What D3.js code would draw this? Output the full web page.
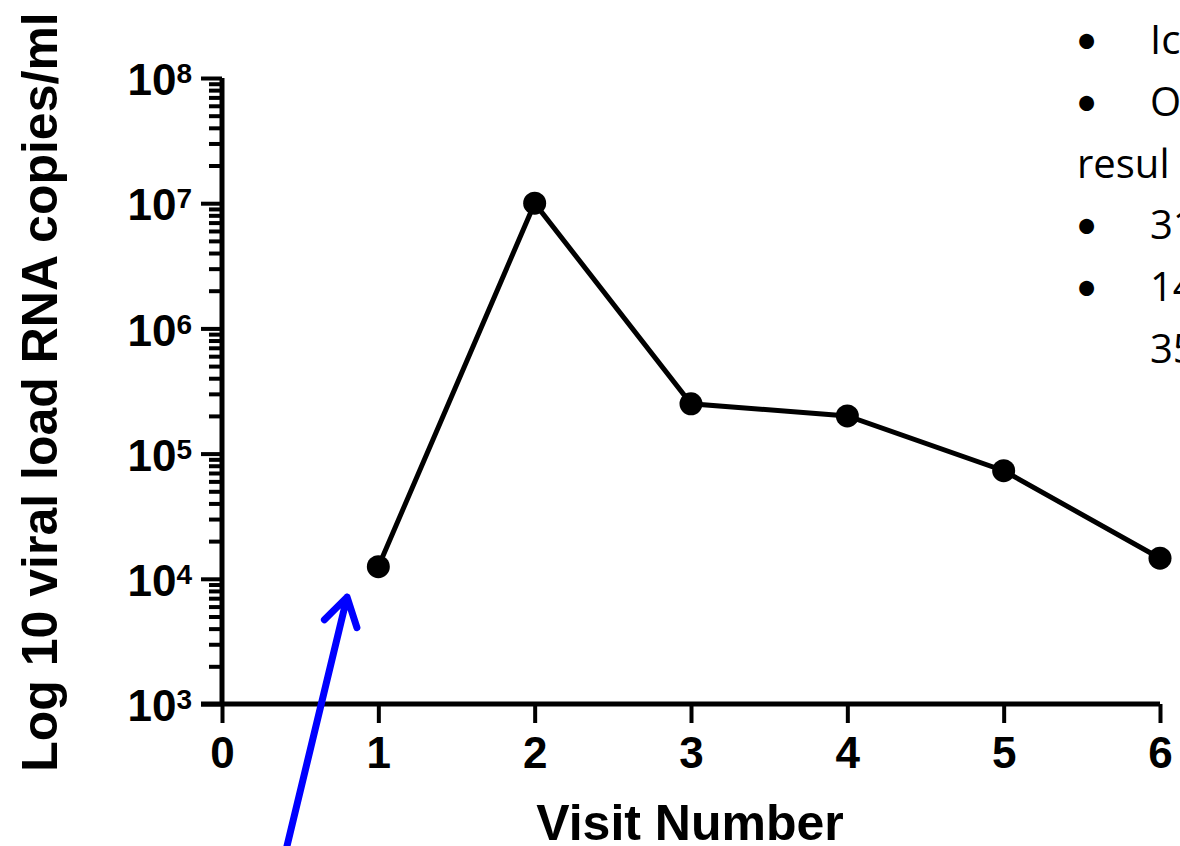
<!DOCTYPE html>
<html>
<head>
<meta charset="utf-8">
<script src="https://cdn.jsdelivr.net/npm/d3@7"></script>
<style>
	body { margin: 0; background: #fff; }
	svg { display: block; }
	.axis path { stroke: #000; stroke-width: 5; }
	.axis line { stroke: #000; stroke-width: 4; }
	.axis text { font-family: 'Liberation Sans', Arial, sans-serif; font-weight: bold; fill: #000; }
	.notes text { font-family: 'Open Sans', Lato, sans-serif; fill: #000; font-size: 40px; }
	.notes text.bullet { font-family: Lato, sans-serif; }
</style>
</head>
<body>
<svg id="chart" width="1180" height="846"></svg>
<script>
const VISITS = [1, 2, 3, 4, 5, 6];
const VIRAL_LOAD = [12500, 10000000, 250000, 200000, 73000, 14600];
const X_TICKS = [0, 1, 2, 3, 4, 5, 6];
const Y_DECADES = [3, 4, 5, 6, 7, 8];
const X_TITLE = 'Visit Number';
const Y_TITLE = 'Log 10 viral load RNA copies/ml';
// clipped bullet text at the top right of the slide
const NOTE_LINES = [
	{ bullet: true, text: 'Ic' },
	{ bullet: true, text: 'O' },
	{ bullet: false, text: 'resul' },
	{ bullet: true, text: '31' },
	{ bullet: true, text: '14' },
	{ bullet: false, text: '35', indent: true }
];
// arrow in data units: tail, tip
const ARROW = [[0.416, 73.6], [0.8, 7140]];

const $svg = d3.select('#chart');

const x = d3.scaleLinear().domain([0, 6]).range([222, 1160]);
const y = d3.scaleLog().domain([1e3, 1e8]).range([704, 78]);

const minors = [];
Y_DECADES.slice(0, -1).forEach(e => {
	for (let m = 2; m <= 9; m += 1) minors.push(m * Math.pow(10, e));
});

// minor y ticks
$svg.append('g')
	.attr('class', 'axis')
	.attr('transform', `translate(${x(0)},0)`)
	.call(d3.axisLeft(y).tickValues(minors).tickSize(13).tickFormat(''))
	.call(g => g.select('.domain').remove());

// major y ticks
const $yAxis = $svg.append('g')
	.attr('class', 'axis')
	.attr('transform', `translate(${x(0)},0)`)
	.call(d3.axisLeft(y)
		.tickValues(Y_DECADES.map(e => Math.pow(10, e)))
		.tickSize(21)
		.tickSizeOuter(0)
		.tickPadding(9));

$yAxis.select('.domain').attr('d', `M0,${y(1e8)}V${y(1e3)}`);

$yAxis.selectAll('.tick text').each(function(d) {
	const $t = d3.select(this);
	$t.text(null).attr('dy', '0.38em').attr('font-size', 44);
	$t.append('tspan').text('10');
	$t.append('tspan')
		.attr('dy', -12)
		.attr('font-size', 28)
		.text(Math.round(Math.log10(d)));
});

// x axis
$svg.append('g')
	.attr('class', 'axis')
	.attr('transform', `translate(0,${y(1e3)})`)
	.call(d3.axisBottom(x)
		.tickValues(X_TICKS)
		.tickFormat(d3.format('d'))
		.tickSize(19)
		.tickSizeOuter(0)
		.tickPadding(14))
	.call(g => g.selectAll('.tick text').attr('font-size', 44))
	.call(g => g.select('.domain').attr('d', `M${x(0) - 21},0H${x(6)}`));

// series
const line = d3.line().x(d => x(d[0])).y(d => y(d[1]));
const pts = VISITS.map((v, i) => [v, VIRAL_LOAD[i]]);

$svg.append('path')
	.datum(pts)
	.attr('d', line)
	.attr('fill', 'none')
	.attr('stroke', '#000')
	.attr('stroke-width', 5);

$svg.selectAll('.dot')
	.data(pts)
	.enter()
	.append('circle')
	.attr('class', 'dot')
	.attr('cx', d => x(d[0]))
	.attr('cy', d => y(d[1]))
	.attr('r', 11.5)
	.attr('fill', '#000');

// axis titles
$svg.append('text')
	.attr('x', 690)
	.attr('y', 840)
	.attr('text-anchor', 'middle')
	.attr('font-family', "'Liberation Sans', Arial, sans-serif")
	.attr('font-weight', 'bold')
	.attr('font-size', 50)
	.text(X_TITLE);

$svg.append('text')
	.attr('transform', 'translate(57,392) rotate(-90)')
	.attr('text-anchor', 'middle')
	.attr('font-family', "'Liberation Sans', Arial, sans-serif")
	.attr('font-weight', 'bold')
	.attr('font-size', 50)
	.text(Y_TITLE);

// blue arrow
const tail = [x(ARROW[0][0]), y(ARROW[0][1])];
const tip = [x(ARROW[1][0]), y(ARROW[1][1])];
const ang = Math.atan2(tip[1] - tail[1], tip[0] - tail[0]);
const headLen = 32;
const spread = 0.55;
const w1 = [tip[0] - headLen * Math.cos(ang - spread), tip[1] - headLen * Math.sin(ang - spread)];
const w2 = [tip[0] - headLen * Math.cos(ang + spread), tip[1] - headLen * Math.sin(ang + spread)];

$svg.append('path')
	.attr('d', `M${tail}L${tip}M${w1}L${tip}L${w2}`)
	.attr('fill', 'none')
	.attr('stroke', '#0000ff')
	.attr('stroke-width', 7)
	.attr('stroke-linecap', 'round')
	.attr('stroke-linejoin', 'round');

// notes
const $notes = $svg.append('g').attr('class', 'notes');
NOTE_LINES.forEach((d, i) => {
	const by = 54 + i * 61.8;
	if (d.bullet) {
		$notes.append('text').attr('class', 'bullet').attr('x', 1075).attr('y', by).text('•');
	}
	$notes.append('text')
		.attr('x', d.bullet || d.indent ? 1150 : 1077)
		.attr('y', by)
		.text(d.text);
});
</script>
</body>
</html>
